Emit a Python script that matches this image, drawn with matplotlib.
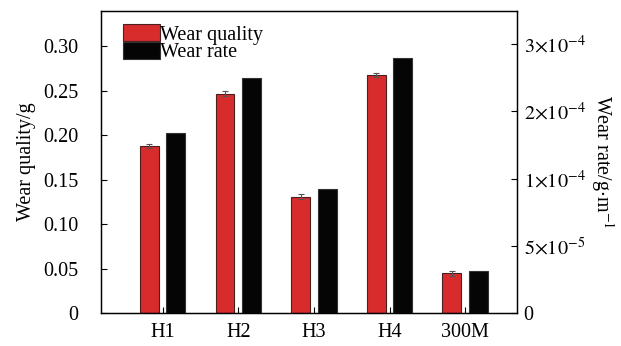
import numpy as np
import matplotlib
matplotlib.use("Agg")
import matplotlib.pyplot as plt
from matplotlib.ticker import FixedLocator, FixedFormatter

plt.rcParams['font.family'] = ['Liberation Serif', 'DejaVu Serif']
plt.rcParams['mathtext.fontset'] = 'stix'
plt.rcParams['font.size'] = 14.5

# data
samples = ['H1', 'H2', 'H3', 'H4', '300M']
wear_quality = [0.188, 0.2465, 0.131, 0.2675, 0.045]    # g
wear_quality_err = [0.002, 0.003, 0.003, 0.002, 0.003]
wear_rate = [1.337e-4, 1.748e-4, 0.923e-4, 1.897e-4, 0.316e-4]  # g/m (right axis)
rate_ticks = [0, 5e-5, 1e-4, 1.5e-4, 2e-4]
rate_labels = ['0', r'$5{\times}10^{-5}$', r'$1{\times}10^{-4}$',
               r'$2{\times}10^{-4}$', r'$3{\times}10^{-4}$']
quality_ticks = [0, 0.05, 0.10, 0.15, 0.20, 0.25, 0.30]
quality_labels = ['0', '0.05', '0.10', '0.15', '0.20', '0.25', '0.30']

fig = plt.figure(figsize=(6.21, 3.46), dpi=100)
ax = fig.add_axes([0.162, 0.0945, 0.670, 0.8745])
ax2 = ax.twinx()

x = np.arange(len(samples))
w = 0.25
off = 0.176

b1 = ax.bar(x - off, wear_quality, w, color='#d82c2c', edgecolor='#4a2020',
            linewidth=0.8, yerr=wear_quality_err,
            error_kw=dict(ecolor='#555555', elinewidth=0.8, capsize=2.5, capthick=0.8),
            label='Wear quality')
b2 = ax2.bar(x + off, wear_rate, w, color='#050505', edgecolor='#333333',
             linewidth=0.8, label='Wear rate')

ax.set_xlim(-0.82, 4.68)
ax.set_ylim(0, 0.3396)
ax2.set_ylim(0, 2.248e-4)

ax.set_xticks(x)
ax.set_xticklabels(samples)
ax.yaxis.set_major_locator(FixedLocator(quality_ticks))
ax.yaxis.set_major_formatter(FixedFormatter(quality_labels))
ax2.yaxis.set_major_locator(FixedLocator(rate_ticks))
ax2.yaxis.set_major_formatter(FixedFormatter(rate_labels))

ax.tick_params(axis='y', direction='in', length=4, width=0.8, pad=16)
ax.tick_params(axis='x', direction='in', length=4, width=0.8, pad=7)
ax2.tick_params(axis='y', direction='in', length=4, width=0.8, pad=5)

for a in (ax, ax2):
    for s in a.spines.values():
        s.set_linewidth(0.9)

ax.set_ylabel('Wear quality/g', labelpad=5)
ax2.set_ylabel(r'Wear rate/g$\cdot$m$^{-1}$', rotation=270, labelpad=22)

ax.legend([b1, b2], ['Wear quality', 'Wear rate'], loc='upper left',
          bbox_to_anchor=(0.055, 0.955), frameon=False, handlelength=1.8,
          handleheight=0.92, handletextpad=0.03, labelspacing=-0.15,
          borderaxespad=0, borderpad=0)

fig.savefig('out.png', dpi=100)
